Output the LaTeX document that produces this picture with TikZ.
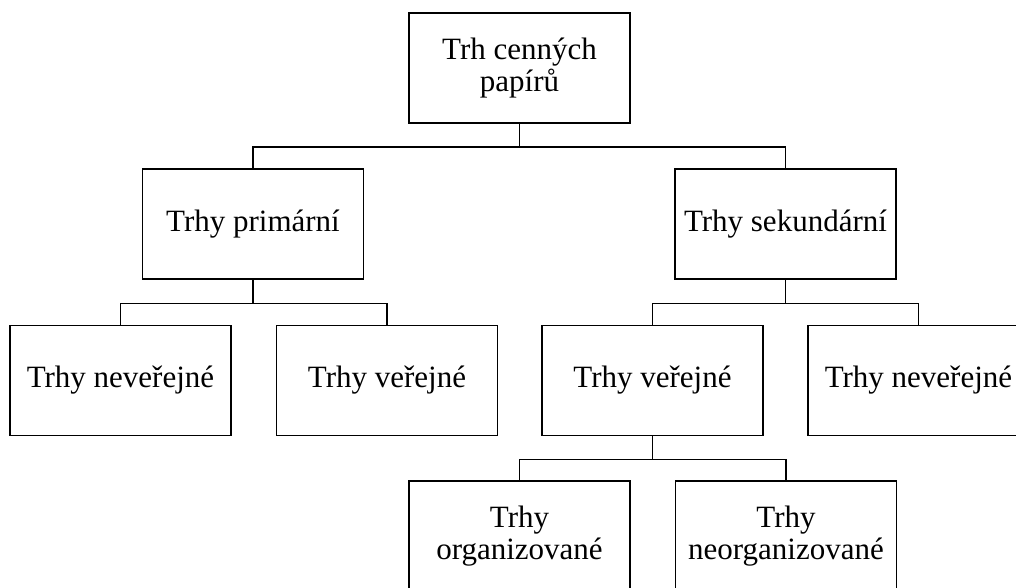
\documentclass[tikz,border=0pt]{standalone}
\usepackage{fontspec}
\setmainfont{Liberation Serif}
\usetikzlibrary{positioning,calc}

\begin{document}
\begin{tikzpicture}[x=0.75pt,y=-0.75pt,
  box/.style={draw, line width=1.2pt, minimum width=165.75pt, minimum height=82.5pt,
    inner sep=0pt, align=center, font=\fontsize{23.25}{23.5}\selectfont},
  link/.style={line width=1.2pt}]
\clip (0,0) rectangle (1016,587);

% Root
\node[box] (trh) at (519.5,68) {Trh cenných\\papírů};

% Primary and secondary
\node[box] (prim) at (253,224) {Trhy primární};
\node[box] (sek) at (785.5,224) {Trhy sekundární};

% Third level
\node[box] (nevL) at (120.5,380.5) {Trhy neveřejné};
\node[box] (verL) at (387,380.5) {Trhy veřejné};
\node[box] (verR) at (652.5,380.5) {Trhy veřejné};
\node[box] (nevR) at (918.5,380.5) {Trhy neveřejné};

% Bottom level
\node[box] (org) at (519.5,536) {Trhy\\organizované};
\node[box] (neorg) at (786,536) {Trhy\\neorganizované};

% Connectors
\draw[link] (trh.south) -- ++(0,23) -| (prim.north);
\draw[link] (trh.south) -- ++(0,23) -| (sek.north);
\draw[link] (prim.south) -- ++(0,23.5) -| (nevL.north);
\draw[link] (prim.south) -- ++(0,23.5) -| (verL.north);
\draw[link] (sek.south) -- ++(0,23.5) -| (verR.north);
\draw[link] (sek.south) -- ++(0,23.5) -| (nevR.north);
\draw[link] (verR.south) -- ++(0,23) -| (org.north);
\draw[link] (verR.south) -- ++(0,23) -| (neorg.north);
\end{tikzpicture}
\end{document}
